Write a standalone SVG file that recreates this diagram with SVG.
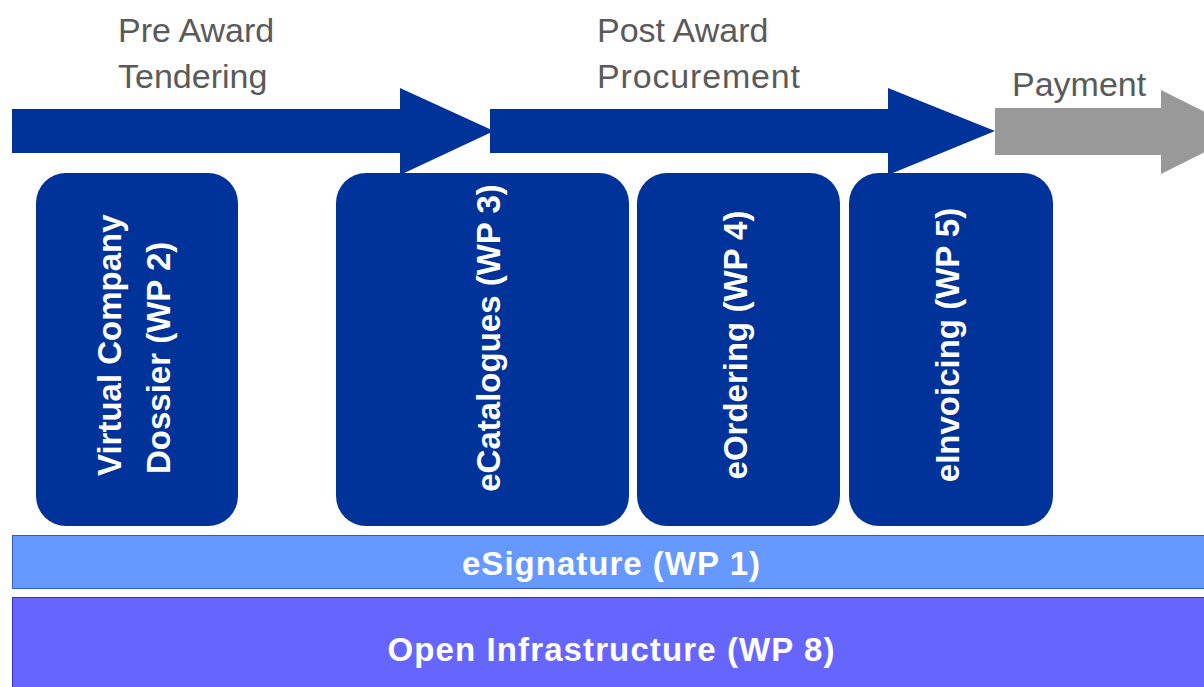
<svg xmlns="http://www.w3.org/2000/svg" width="1204" height="687" viewBox="0 0 1204 687">
<style>
.head{font-family:"Liberation Sans",Arial,sans-serif;font-size:34px;fill:#5a5a5a}
.box{fill:#003399}
.vt{font-family:"Liberation Sans",Arial,sans-serif;font-size:33px;font-weight:bold;fill:#ffffff}
.bt{font-family:"Liberation Sans",Arial,sans-serif;font-size:33px;font-weight:bold;fill:#ffffff;text-anchor:middle}
</style>
<rect width="1204" height="687" fill="#ffffff"/>
<g id="phase-labels">
<text class="head" x="118" y="42">Pre Award</text>
<text class="head" x="118" y="88">Tendering</text>
<text class="head" x="597" y="42">Post Award</text>
<text class="head" x="597" y="88" textLength="203" lengthAdjust="spacing">Procurement</text>
<text class="head" x="1012" y="96">Payment</text>
</g>
<g id="connectors">
<polygon fill="#003399" points="12,109 400,109 400,88 494,131 400,175 400,153 12,153"/>
<polygon fill="#003399" points="490,109 888,109 888,88 995,131 888,175 888,153 490,153"/>
<polygon fill="#999999" points="995,108 1161,108 1161,90 1245,132 1161,174 1161,155 995,155"/>
</g>
<g id="wp2">
<rect class="box" x="36" y="173" width="202" height="353" rx="30" ry="30"/>
<text class="vt" transform="translate(121,476) rotate(-90)">Virtual Company</text>
<text class="vt" transform="translate(170,474) rotate(-90)">Dossier (WP 2)</text>
</g>
<g id="wp3">
<rect class="box" x="336" y="173" width="293" height="353" rx="30" ry="30"/>
<text class="vt" text-anchor="middle" transform="translate(500,338) rotate(-90)">eCatalogues (WP 3)</text>
</g>
<g id="wp4">
<rect class="box" x="637" y="173" width="203" height="353" rx="30" ry="30"/>
<text class="vt" text-anchor="middle" transform="translate(747,345) rotate(-90)">eOrdering (WP 4)</text>
</g>
<g id="wp5">
<rect class="box" x="849" y="173" width="204" height="353" rx="30" ry="30"/>
<text class="vt" text-anchor="middle" transform="translate(959,345) rotate(-90)">eInvoicing (WP 5)</text>
</g>
<g id="wp1">
<rect x="12.5" y="535.5" width="1200" height="53" fill="#6699ff" stroke="#2e5bd0" stroke-width="1"/>
<text class="bt" x="611" y="575" textLength="298" lengthAdjust="spacing">eSignature (WP 1)</text>
</g>
<g id="wp8">
<rect x="12.5" y="597.5" width="1200" height="100" fill="#6666ff" stroke="#3333cc" stroke-width="1"/>
<text class="bt" x="611" y="661" textLength="447" lengthAdjust="spacing">Open Infrastructure (WP 8)</text>
</g>
</svg>
